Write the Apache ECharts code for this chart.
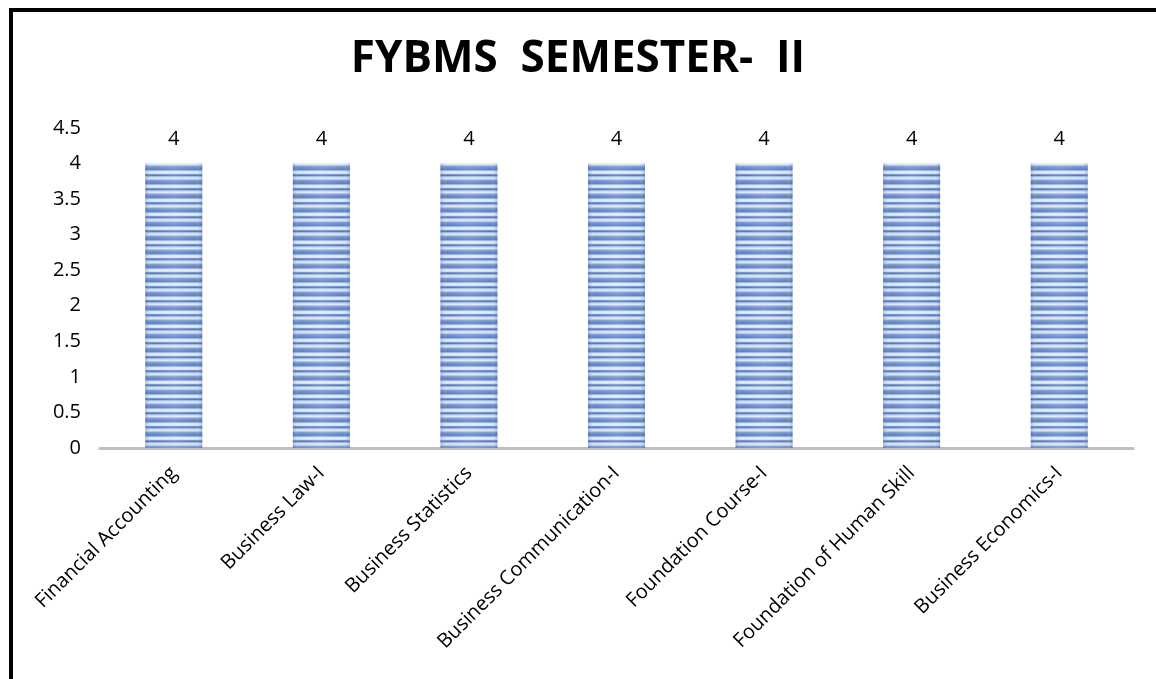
<!DOCTYPE html>
<html>
<head>
<meta charset="utf-8">
<script src="https://cdn.jsdelivr.net/npm/echarts@6/dist/echarts.min.js"></script>
<style>
  html, body { margin: 0; padding: 0; background: #fff; }
  #chart { width: 1156px; height: 679px; }
</style>
</head>
<body>
<div id="chart"></div>
<script>
// Subjects and credits for the semester
const subjects = [
  'Financial Accounting',
  'Business Law-I',
  'Business Statistics',
  'Business Communication-I',
  'Foundation Course-I',
  'Foundation of Human Skill',
  'Business Economics-I'
];
const credits = [4, 4, 4, 4, 4, 4, 4];
const chartTitle = 'FYBMS  SEMESTER-  II';

// Striped blue fill tile for the bars
function stripeTile() {
  const rows = ['#5f86c6', '#5a82c3', '#9ab4e0', '#d6e2f5', '#e2eaf9', '#cfdcf3', '#7396cd',
                '#4f7bc0', '#9fb8e2', '#cddaf2', '#dbe5f7', '#afc4e9', '#7e9dd3', '#6a8fca'];
  const c = document.createElement('canvas');
  c.width = 4; c.height = rows.length;
  const ctx = c.getContext('2d');
  rows.forEach((col, i) => { ctx.fillStyle = col; ctx.fillRect(0, i, 4, 1); });
  return c;
}

const FONT = '"Open Sans", "Noto Sans", sans-serif';
const chart = echarts.init(document.getElementById('chart'), null, { renderer: 'canvas' });

chart.setOption({
  animation: false,
  backgroundColor: '#ffffff',
  title: {
    text: chartTitle,
    left: 'center',
    top: 32,
    textStyle: { fontFamily: FONT, fontWeight: 'bold', fontSize: 44, color: '#000' }
  },
  graphic: [{
    type: 'rect',
    shape: { x: 11, y: 10, width: 3000, height: 3000 },
    style: { fill: 'none', stroke: '#000', lineWidth: 4 },
    silent: true,
    z: 100
  }],
  grid: { left: 100, right: 23, top: 128, bottom: 231, containLabel: false },
  xAxis: {
    type: 'category',
    data: subjects,
    axisLine: { show: true, lineStyle: { color: '#bfbfbf', width: 3 } },
    axisTick: { show: false },
    axisLabel: {
      rotate: 45,
      interval: 0,
      margin: 22,
      fontFamily: FONT,
      fontSize: 20,
      color: '#000'
    }
  },
  yAxis: {
    type: 'value',
    min: 0,
    max: 4.5,
    interval: 0.5,
    axisLine: { show: false },
    axisTick: { show: false },
    splitLine: { show: false },
    axisLabel: { fontFamily: FONT, fontSize: 20, color: '#000', margin: 19 }
  },
  series: [
    {
      type: 'bar',
      data: credits,
      barWidth: 57,
      itemStyle: { color: { image: stripeTile(), repeat: 'repeat' } },
      label: {
        show: true,
        position: 'top',
        distance: 14,
        fontFamily: FONT,
        fontSize: 20,
        color: '#000'
      }
    },
    {
      // soft horizontal shading across each bar
      type: 'bar',
      data: credits,
      barWidth: 57,
      barGap: '-100%',
      silent: true,
      itemStyle: {
        color: new echarts.graphic.LinearGradient(0, 0, 1, 0, [
          { offset: 0, color: 'rgba(40,70,140,0.25)' },
          { offset: 0.12, color: 'rgba(255,255,255,0.0)' },
          { offset: 0.5, color: 'rgba(255,255,255,0.15)' },
          { offset: 0.88, color: 'rgba(255,255,255,0.0)' },
          { offset: 1, color: 'rgba(40,70,140,0.25)' }
        ])
      }
    }
  ]
});
</script>
</body>
</html>
